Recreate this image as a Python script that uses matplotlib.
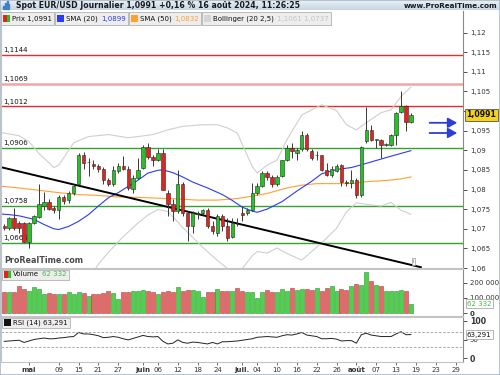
import matplotlib
matplotlib.use('Agg')
import matplotlib.pyplot as plt
import numpy as np
import pandas as pd
from matplotlib import font_manager
from matplotlib.patches import Rectangle

W, H = 500, 375

# daily EUR/USD candles, 24 Apr -> 16 Aug 2024
opens = [1.0707, 1.0701, 1.0728, 1.0714, 1.0714, 1.0666, 1.0715, 1.0731, 1.0758, 1.0768,
         1.0754, 1.0749, 1.0781, 1.0773, 1.0790, 1.0815, 1.0889, 1.0869, 1.0866, 1.0859,
         1.0853, 1.0825, 1.0813, 1.0847, 1.0861, 1.0853, 1.0802, 1.0830, 1.0855, 1.0909,
         1.0883, 1.0874, 1.0893, 1.0792, 1.0762, 1.0745, 1.0815, 1.0739, 1.0707, 1.0737,
         1.0739, 1.0749, 1.0707, 1.0690, 1.0732, 1.0707, 1.0680, 1.0712, 1.0739, 1.0739,
         1.0749, 1.0792, 1.0810, 1.0842, 1.0831, 1.0813, 1.0834, 1.0874, 1.0906, 1.0893,
         1.0904, 1.0940, 1.0899, 1.0888, 1.0887, 1.0851, 1.0838, 1.0848, 1.0862, 1.0820,
         1.0816, 1.0825, 1.0786, 1.0923, 1.0951, 1.0927, 1.0927, 1.0914, 1.0913, 1.0938,
         1.0998, 1.1012, 1.0972]
highs = [1.0713, 1.0731, 1.0754, 1.0720, 1.0717, 1.0717, 1.0734, 1.0813, 1.0793, 1.0775,
         1.0758, 1.0787, 1.0787, 1.0796, 1.0815, 1.0893, 1.0895, 1.0881, 1.0876, 1.0864,
         1.0858, 1.0830, 1.0861, 1.0868, 1.0885, 1.0859, 1.0838, 1.0881, 1.0914, 1.0919,
         1.0889, 1.0902, 1.0902, 1.0800, 1.0775, 1.0851, 1.0819, 1.0745, 1.0745, 1.0745,
         1.0751, 1.0754, 1.0719, 1.0737, 1.0737, 1.0728, 1.0728, 1.0728, 1.0758, 1.0754,
         1.0817, 1.0817, 1.0847, 1.0846, 1.0836, 1.0836, 1.0876, 1.0913, 1.0919, 1.0905,
         1.0948, 1.0944, 1.0902, 1.0898, 1.0889, 1.0868, 1.0859, 1.0864, 1.0864, 1.0825,
         1.0851, 1.0830, 1.0910, 1.1009, 1.0965, 1.0929, 1.0928, 1.0918, 1.0941, 1.0998,
         1.1050, 1.1016, 1.0995]
lows = [1.0698, 1.0698, 1.0697, 1.0688, 1.0665, 1.0652, 1.0711, 1.0728, 1.0749, 1.0749,
        1.0741, 1.0724, 1.0764, 1.0766, 1.0787, 1.0813, 1.0853, 1.0834, 1.0853, 1.0844,
        1.0813, 1.0808, 1.0810, 1.0842, 1.0849, 1.0800, 1.0792, 1.0827, 1.0853, 1.0878,
        1.0859, 1.0872, 1.0798, 1.0732, 1.0719, 1.0741, 1.0732, 1.0669, 1.0690, 1.0724,
        1.0734, 1.0703, 1.0686, 1.0681, 1.0694, 1.0669, 1.0677, 1.0707, 1.0720, 1.0734,
        1.0745, 1.0787, 1.0807, 1.0825, 1.0807, 1.0808, 1.0831, 1.0872, 1.0881, 1.0876,
        1.0897, 1.0897, 1.0876, 1.0874, 1.0848, 1.0834, 1.0831, 1.0845, 1.0808, 1.0808,
        1.0805, 1.0779, 1.0781, 1.0919, 1.0923, 1.0906, 1.0881, 1.0910, 1.0912, 1.0913,
        1.0995, 1.0948, 1.0970]
closes = [1.0701, 1.0728, 1.0701, 1.0701, 1.0667, 1.0714, 1.0732, 1.0764, 1.0768, 1.0751,
          1.0749, 1.0781, 1.0770, 1.0792, 1.0810, 1.0889, 1.0868, 1.0870, 1.0859, 1.0853,
          1.0824, 1.0815, 1.0851, 1.0861, 1.0853, 1.0804, 1.0830, 1.0849, 1.0909, 1.0883,
          1.0874, 1.0893, 1.0800, 1.0764, 1.0745, 1.0815, 1.0741, 1.0707, 1.0739, 1.0741,
          1.0747, 1.0707, 1.0694, 1.0732, 1.0707, 1.0677, 1.0715, 1.0711, 1.0735, 1.0749,
          1.0792, 1.0810, 1.0842, 1.0832, 1.0814, 1.0831, 1.0874, 1.0906, 1.0897, 1.0900,
          1.0940, 1.0904, 1.0881, 1.0889, 1.0851, 1.0838, 1.0853, 1.0859, 1.0820, 1.0816,
          1.0825, 1.0787, 1.0908, 1.0951, 1.0927, 1.0928, 1.0914, 1.0915, 1.0938, 1.0995,
          1.1012, 1.0972, 1.0991]
volumes = [137000, 141000, 137000, 180000, 159000, 148000, 169000, 159000, 126000, 132000,
           126000, 126000, 126000, 137000, 126000, 137000, 132000, 115000, 126000, 126000,
           132000, 148000, 132000, 93000, 137000, 141000, 148000, 146000, 154000, 148000,
           141000, 126000, 141000, 148000, 141000, 169000, 148000, 154000, 152000, 148000,
           104000, 137000, 137000, 159000, 143000, 148000, 148000, 163000, 148000, 137000,
           137000, 100000, 137000, 154000, 137000, 137000, 159000, 148000, 163000, 152000,
           159000, 159000, 152000, 163000, 143000, 163000, 176000, 143000, 159000, 154000,
           176000, 191000, 187000, 267000, 209000, 185000, 176000, 143000, 143000, 143000,
           150000, 143000, 62332]
rsi = [45, 46, 47, 48, 42, 46, 50, 52, 54, 52, 52, 54, 55, 57, 58, 69, 65, 65, 63, 60,
       55, 56, 58, 56, 52, 49, 53, 57, 61, 58, 57, 58, 45, 38, 40, 49, 42, 40, 43, 42,
       40, 38, 42, 38, 44, 44, 45, 46, 48, 50, 52, 56, 57, 58, 57, 56, 60, 63, 62, 65,
       69, 62, 60, 58, 52, 52, 53, 51, 46, 47, 47, 40, 63, 67, 62, 60, 58, 58, 58, 65,
       71, 63, 63.291]

# indicator curves, sampled at trading-day positions (0 = 24 Apr)
sma20_pos = [-1, 1, 3, 6, 8, 10, 11, 13, 15, 17, 19, 21, 23, 25, 27, 29, 31, 32, 34, 36,
             38, 41, 44, 46, 48, 50, 51, 53, 56, 59, 62, 64, 67, 70, 72, 75, 78, 80, 82]
sma20_val = [1.0738, 1.0736, 1.0733, 1.0724, 1.0711, 1.0700, 1.0698, 1.0706, 1.0719, 1.0736,
             1.0758, 1.0779, 1.0792, 1.0808, 1.0824, 1.0842, 1.0849, 1.0850, 1.0843, 1.0832,
             1.0819, 1.0804, 1.0787, 1.0772, 1.0755, 1.0745, 1.0742, 1.0750, 1.0769, 1.0796,
             1.0821, 1.0840, 1.0851, 1.0856, 1.0863, 1.0874, 1.0885, 1.0892, 1.0899]
sma50_pos = [-1, 3, 7, 11, 15, 19, 23, 27, 31, 35, 39, 43, 47, 50, 53, 57, 60, 63, 67, 70,
             73, 77, 80, 82]
sma50_val = [1.0809, 1.0804, 1.0798, 1.0792, 1.0787, 1.0785, 1.0781, 1.0780, 1.0778, 1.0776,
             1.0773, 1.0773, 1.0777, 1.0783, 1.0790, 1.0804, 1.0811, 1.0815, 1.0815, 1.0815,
             1.0820, 1.0823, 1.0827, 1.0832]
boll_up_pos = [-1, 3, 5, 7, 10, 11, 14, 17, 21, 25, 27, 30, 33, 36, 40, 43, 45, 47, 48, 50,
               51, 53, 55, 57, 60, 64, 67, 69, 71, 73, 76, 78, 80, 82]
boll_up_val = [1.0946, 1.0937, 1.0922, 1.0892, 1.0856, 1.0862, 1.0919, 1.0935, 1.0940, 1.0932,
               1.0935, 1.0940, 1.0952, 1.0961, 1.0965, 1.0965, 1.0957, 1.0944, 1.0915, 1.0859,
               1.0842, 1.0862, 1.0875, 1.0927, 1.0990, 1.1016, 1.1001, 1.0965, 1.0952, 1.0970,
               1.0996, 1.1003, 1.1037, 1.1061]
boll_lo_pos = [-1, 10, 14, 17, 19, 21, 24, 27, 29, 31, 33, 36, 40, 43, 45, 47, 50, 51, 53, 55,
               57, 60, 64, 67, 69, 71, 73, 76, 78, 80, 82]
boll_lo_val = [1.0530, 1.0544, 1.0515, 1.0570, 1.0610, 1.0640, 1.0680, 1.0715, 1.0735, 1.0749,
               1.0744, 1.0703, 1.0653, 1.0619, 1.0599, 1.0582, 1.0631, 1.0642, 1.0638, 1.0651,
               1.0637, 1.0620, 1.0664, 1.0701, 1.0743, 1.0766, 1.0762, 1.0758, 1.0767, 1.0747,
               1.0737]

red_levels = [1.1144, 1.1069, 1.1012]
green_levels = [1.0906, 1.0758, 1.0664]
trend_pos = [-1, 84]
trend_val = [1.0858, 1.0602]
arrow_val = [1.0970, 1.0944]
arrow_pos = [85.2, 91.9]

price_ticks = [1.06, 1.065, 1.07, 1.075, 1.08, 1.085, 1.09, 1.095, 1.10, 1.105, 1.11, 1.115, 1.12]
tick_dates = ['2024-05-01', '2024-05-09', '2024-05-15', '2024-05-21', '2024-05-27', '2024-06-03',
              '2024-06-06', '2024-06-12', '2024-06-18', '2024-06-24', '2024-07-01', '2024-07-04',
              '2024-07-10', '2024-07-16', '2024-07-22', '2024-07-26', '2024-08-01', '2024-08-07',
              '2024-08-13', '2024-08-19', '2024-08-23', '2024-08-29']
tick_labels = ['mai', '09', '15', '21', '27', 'juin', '06', '12', '18', '24', 'juil.', '04',
               '10', '16', '22', '26', 'août', '07', '13', '19', '23', '29']

GREEN, RED = '#22c322', '#e2231f'
VGREEN, VRED = '#4fd04f', '#e46a6a'
BLUE, ORANGE, BOLL = '#2b3cf5', '#ffa030', '#cfcfcf'

names = {f.name for f in font_manager.fontManager.ttflist}
if 'Liberation Sans Narrow' in names:
    plt.rcParams['font.family'] = ['Liberation Sans Narrow', 'DejaVu Sans']
    fs = 6.3
else:
    plt.rcParams['font.family'] = ['DejaVu Sans']
    fs = 5.0


def fy(y):
    return 1 - y / H


dates = pd.bdate_range('2024-04-24', '2024-09-06')
pos = np.arange(len(closes))
o, hi, lo, c = (np.array(a) for a in (opens, highs, lows, closes))
up = c >= o

fig = plt.figure(figsize=(W / 100, H / 100), dpi=100)
ax = fig.add_axes([1 / W, fy(268), 462 / W, (268 - 11) / H])
ax_v = fig.add_axes([1 / W, fy(316), 462 / W, (316 - 269) / H], sharex=ax)
ax_r = fig.add_axes([1 / W, fy(362), 462 / W, (362 - 317) / H], sharex=ax)

# --- price panel ---
for lv in red_levels:
    pale = lv == red_levels[1]
    ax.axhline(lv, color='#f4a4a4' if pale else '#ec2b2b', lw=1.8 if pale else 1.0, zorder=1)
for lv in green_levels:
    ax.axhline(lv, color='#37a32f', lw=1.0, zorder=1)
for lv in red_levels + green_levels:
    ax.text(0.005, lv + 0.0004, f'{lv:.4f}'.replace('.', ','), transform=ax.get_yaxis_transform(),
            fontsize=fs, va='bottom', ha='left', color='#111', zorder=2)

ax.plot(boll_up_pos, boll_up_val, color=BOLL, lw=0.8, zorder=2)
ax.plot(boll_lo_pos, boll_lo_val, color=BOLL, lw=0.8, zorder=2)
ax.plot(sma50_pos, sma50_val, color=ORANGE, lw=0.8, zorder=2)
ax.plot(sma20_pos, sma20_val, color=BLUE, lw=0.8, zorder=2)
ax.plot(trend_pos, trend_val, color='black', lw=1.4, zorder=2)

ax.vlines(pos, lo, hi, color='#383838', lw=0.7, zorder=3)
ax.bar(pos, np.maximum(np.abs(c - o), 0.00006), bottom=np.minimum(o, c), width=0.68,
       color=np.where(up, GREEN, RED), edgecolor='#2a2a2a', linewidth=0.4, zorder=4)

for v in arrow_val:
    ax.annotate('', xy=(arrow_pos[1], v), xytext=(arrow_pos[0], v),
                arrowprops=dict(arrowstyle='-|>,head_length=0.55,head_width=0.3',
                                color='#2b3fd6', lw=1.3), annotation_clip=False)

ax.set_ylim(1.06018, 1.12549)
ax.set_yticks(price_ticks)
ax.set_yticklabels(['' if abs(t - 1.10) < 1e-9 else f'{t:.3f}'.rstrip('0').replace('.', ',')
                    for t in price_ticks])
ax.text(0.006, 0.012, 'ProRealTime.com', transform=ax.transAxes, fontsize=fs + 0.8,
        color='#4a4a4a', fontweight='bold', va='bottom', ha='left', zorder=6)
ax.text(0.893, 0.025, 'i', transform=ax.transAxes, fontsize=fs - 1, color='#666', ha='center',
        va='center', zorder=6,
        bbox=dict(boxstyle='square,pad=0.15', fc='white', ec='#999', lw=0.5))
ax.text(1.0075, closes[-1], f'{closes[-1]:.4f}'.replace('.', ','), transform=ax.get_yaxis_transform(),
        fontsize=fs + 0.6, fontweight='bold', va='center', ha='left', color='#111', zorder=8,
        clip_on=False, bbox=dict(boxstyle='square,pad=0.2', fc='#f7d21a', ec='#555', lw=0.6))

# --- volume panel ---
ax_v.bar(pos, volumes, width=0.8, color=np.where(up, VGREEN, VRED),
         edgecolor=np.where(up, '#2b9a2b', '#b83c3c'), linewidth=0.4)
ax_v.set_ylim(-17600, 289000)
ax_v.set_yticks([0, 100000, 200000])
ax_v.set_yticklabels(['0', '100 000', '200 000'])
ax_v.text(1.0085, volumes[-1], f'{volumes[-1]:,}'.replace(',', ' '), transform=ax_v.get_yaxis_transform(),
          fontsize=fs, va='center', ha='left', color='#3fbf3f', zorder=8, clip_on=False,
          bbox=dict(boxstyle='square,pad=0.2', fc='white', ec='#999', lw=0.5))

# --- RSI panel ---
ax_r.plot(pos, rsi, color='#222', lw=0.7)
for lv in (30, 70):
    ax_r.axhline(lv, color='#9a9a9a', lw=0.6, dashes=(3, 2))
ax_r.set_ylim(-10.8, 110.8)
ax_r.set_yticks([0, 50, 100])
ax_r.set_yticklabels(['0', '50', '100'])
ax_r.text(1.0085, rsi[-1], f'{rsi[-1]:.3f}'.replace('.', ','), transform=ax_r.get_yaxis_transform(),
          fontsize=fs, va='center', ha='left', color='#111', zorder=8, clip_on=False,
          bbox=dict(boxstyle='square,pad=0.2', fc='white', ec='#999', lw=0.5))

tick_pos = [dates.get_loc(pd.Timestamp(d)) for d in tick_dates]
ax_r.set_xticks(tick_pos)
ax_r.set_xticklabels(tick_labels)
ax.set_xlim(-0.645, 92.5)

for a in (ax, ax_v, ax_r):
    a.yaxis.tick_right()
    a.tick_params(axis='y', length=3, width=0.6, pad=2, labelsize=fs, colors='#333')
    a.tick_params(axis='x', length=2, width=0.5, pad=1.5, labelsize=fs, colors='#333')
    for s in ('top', 'left', 'bottom'):
        a.spines[s].set_color('#c4c4c4')
        a.spines[s].set_linewidth(0.8)
    a.spines['right'].set_color('#8a8a8a')
    a.spines['right'].set_linewidth(0.8)
ax.tick_params(axis='x', labelbottom=False, length=0)
ax_v.tick_params(axis='x', labelbottom=False, length=0)
ax.spines['top'].set_visible(False)

# bold labels, as on the original
ax_v.get_yticklabels()[0].set_fontweight('bold')
for t in (ax_r.get_yticklabels()[0], ax_r.get_yticklabels()[2]):
    t.set_fontweight('bold')
    t.set_fontsize(fs + 0.6)
for t in ax_r.get_xticklabels():
    if t.get_text()[0].isalpha():
        t.set_fontweight('bold')

# --- header bar ---
hb = fig.add_axes([0, fy(10.5), 1, 10.5 / H])
hb.imshow(np.linspace(0, 1, 20).reshape(-1, 1), aspect='auto',
          cmap=matplotlib.colors.LinearSegmentedColormap.from_list('h', ['#eef3f8', '#c8d6e4']),
          extent=(0, 1, 0, 1))
hb.set_axis_off()
for i, hgt in enumerate((0.35, 0.6, 0.85, 0.5)):
    hb.add_patch(Rectangle((0.006 + i * 0.0035, 0.1), 0.0022, hgt, color='#3f7fd0'))
fig.text(16 / W, fy(5.5), 'Spot EUR/USD Journalier 1,0991 +0,16 % 16 août 2024, 11:26:25',
         fontsize=fs + 0.6, fontweight='bold', color='#1a1a1a', va='center', ha='left')
fig.text(497 / W, fy(5.5), 'www.ProRealTime.com', fontsize=fs + 0.2, fontweight='bold',
         color='#1a1a1a', va='center', ha='right')

renderer = fig.canvas.get_renderer()


def legend_box(x0, y0, y1, parts, icon):
    yc = (y0 + y1) / 2
    x = x0 + 11
    for txt, color in parts:
        t = fig.text(x / W, fy(yc), txt, color=color, fontsize=fs, va='center', ha='left', zorder=12)
        x += t.get_window_extent(renderer).width + 3
    x1 = x - 1
    fig.add_artist(Rectangle((x0 / W, fy(y1)), (x1 - x0) / W, (y1 - y0) / H, transform=fig.transFigure,
                             fc='#ededed', ec='#b2b2b2', lw=0.6, zorder=11))
    for k, col in enumerate(icon):
        wdt = 7 / len(icon)
        fig.add_artist(Rectangle(((x0 + 2 + k * wdt) / W, fy(yc + 3.5)), wdt / W, 7 / H,
                                 transform=fig.transFigure, fc=col, ec='none', zorder=12))
    return x1 + 1


x = 1
x = legend_box(x, 12.5, 24.5, [('Prix 1,0991', '#111')], [RED, GREEN])
x = legend_box(x, 12.5, 24.5, [('SMA (20)', '#111'), ('1,0899', BLUE)], [BLUE])
x = legend_box(x, 12.5, 24.5, [('SMA (50)', '#111'), ('1,0832', ORANGE)], [ORANGE])
legend_box(x, 12.5, 24.5, [('Bollinger (20 2,5)', '#111'), ('1,1061 1,0737', '#c4c4c4')], ['#d4d4d4'])
legend_box(2, 269.5, 279.5, [('Volume', '#111'), ('62 332', '#3fbf3f')], [RED, GREEN])
legend_box(2, 317.5, 327.5, [('RSI (14) 63,291', '#111')], ['#111'])

fig.add_artist(Rectangle((0, 0), 1, 1, transform=fig.transFigure, fill=False, ec='#a9b9c9', lw=1.2, zorder=20))

fig.savefig('out.png', dpi=100)
